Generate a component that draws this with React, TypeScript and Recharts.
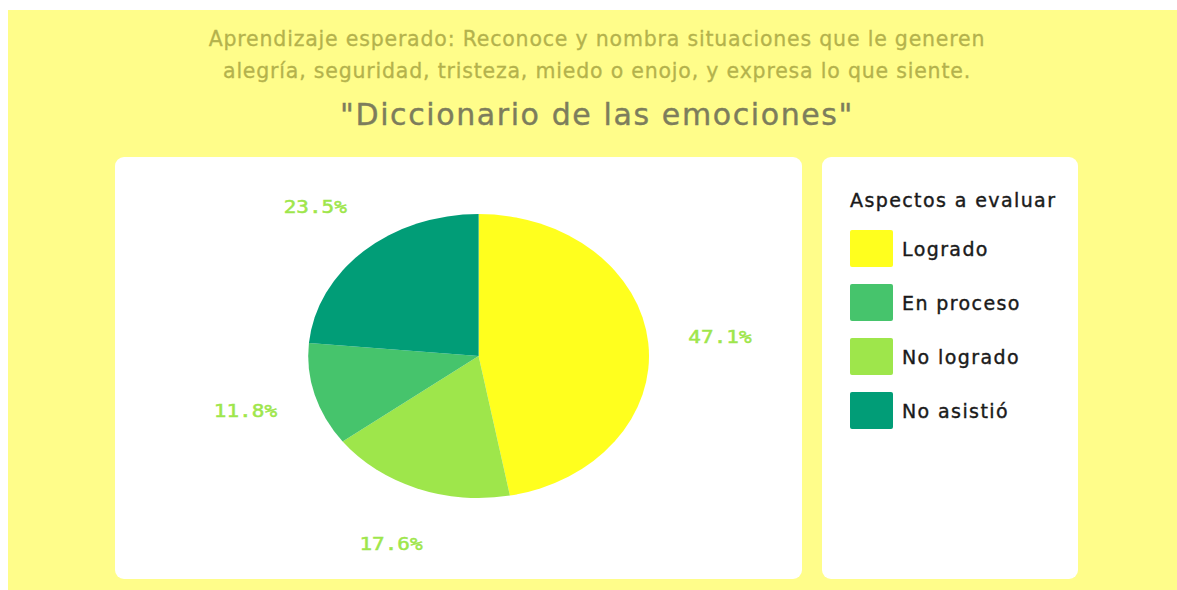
import { PieChart, Pie, Cell } from "recharts";

const categories = ["Logrado", "No logrado", "En proceso", "No asistió"];
const counts = [8, 3, 2, 4];
const colors = ["#ffff1e", "#9ee64b", "#46c46c", "#019d77"];
const legendOrder = ["Logrado", "En proceso", "No logrado", "No asistió"];

const subtitle = [
  "Aprendizaje esperado: Reconoce y nombra situaciones que le generen",
  "alegría, seguridad, tristeza, miedo o enojo, y expresa lo que siente.",
];
const title = '"Diccionario de las emociones"';
const legendTitle = "Aspectos a evaluar";

const data = categories.map((name, i) => ({ name, value: counts[i] }));
const RADIAN = Math.PI / 180;
const FONT = '"DejaVu Sans", sans-serif';
const BG = "#fffd8a";

interface LabelProps {
  cx: number;
  cy: number;
  midAngle: number;
  outerRadius: number;
  percent: number;
}

function renderLabel({ cx, cy, midAngle, outerRadius, percent }: LabelProps) {
  const r = outerRadius + 60;
  const x = cx + r * Math.cos(-midAngle * RADIAN);
  const y = cy + r * Math.sin(-midAngle * RADIAN);
  return (
    <text
      x={x}
      y={y}
      textAnchor="middle"
      dominantBaseline="central"
      fill="#9ee64b"
      stroke="#9ee64b"
      strokeWidth={0.5}
      fontSize={17.5}
      fontFamily='"DejaVu Sans Mono", monospace'
    >
      {(percent * 100).toFixed(1)}%
    </text>
  );
}

export default function App() {
  return (
    <div
      style={{
        position: "fixed",
        left: 8,
        top: 10,
        right: 0,
        bottom: 0,
        background: BG,
        fontFamily: FONT,
      }}
    >
      <div
        style={{
          position: "absolute",
          left: 39,
          top: 13,
          width: 1100,
          textAlign: "center",
          color: "#b4b24c",
          fontSize: 20.5,
          letterSpacing: 0.8,
          lineHeight: "32px",
          WebkitTextStroke: "0.3px #b4b24c",
        }}
      >
        {subtitle.map((s) => (
          <div key={s}>{s}</div>
        ))}
      </div>
      <div
        style={{
          position: "absolute",
          left: 89,
          top: 84,
          width: 1000,
          textAlign: "center",
          color: "#7d7d5c",
          fontSize: 30,
          letterSpacing: 1.6,
          lineHeight: "42px",
          WebkitTextStroke: "0.4px #7d7d5c",
        }}
      >
        {title}
      </div>

      {/* chart card */}
      <div
        style={{
          position: "absolute",
          left: 107,
          top: 147,
          width: 687,
          height: 422,
          background: "#ffffff",
          borderRadius: 9,
          overflow: "hidden",
        }}
      >
        <div style={{ transform: "scaleX(1.2)", transformOrigin: "0 0", width: 572 }}>
          <PieChart width={572} height={422} margin={{ top: 0, right: 0, bottom: 0, left: 0 }}>
            <Pie
              data={data}
              dataKey="value"
              nameKey="name"
              cx={303}
              cy={199}
              outerRadius={142}
              startAngle={90}
              endAngle={-270}
              stroke="none"
              label={renderLabel}
              labelLine={false}
              isAnimationActive={false}
            >
              {data.map((d, i) => (
                <Cell key={d.name} fill={colors[i]} />
              ))}
            </Pie>
          </PieChart>
        </div>
      </div>

      {/* legend card */}
      <div
        style={{
          position: "absolute",
          left: 814,
          top: 147,
          width: 256,
          height: 422,
          background: "#ffffff",
          borderRadius: 9,
        }}
      >
        <div
          style={{
            position: "absolute",
            left: 28,
            top: 32,
            fontSize: 19,
            letterSpacing: 1.4,
            color: "#1a1a1a",
            whiteSpace: "nowrap",
            WebkitTextStroke: "0.4px #1a1a1a",
          }}
        >
          {legendTitle}
        </div>
        {legendOrder.map((name, i) => (
          <div
            key={name}
            style={{
              position: "absolute",
              left: 28,
              top: 73 + i * 54,
              display: "flex",
              alignItems: "center",
              gap: 9,
              fontSize: 19,
              letterSpacing: 1.4,
              color: "#1a1a1a",
              whiteSpace: "nowrap",
              WebkitTextStroke: "0.4px #1a1a1a",
            }}
          >
            <span
              style={{
                display: "inline-block",
                width: 43,
                height: 37,
                borderRadius: 2,
                background: colors[categories.indexOf(name)],
              }}
            />
            {name}
          </div>
        ))}
      </div>
    </div>
  );
}
